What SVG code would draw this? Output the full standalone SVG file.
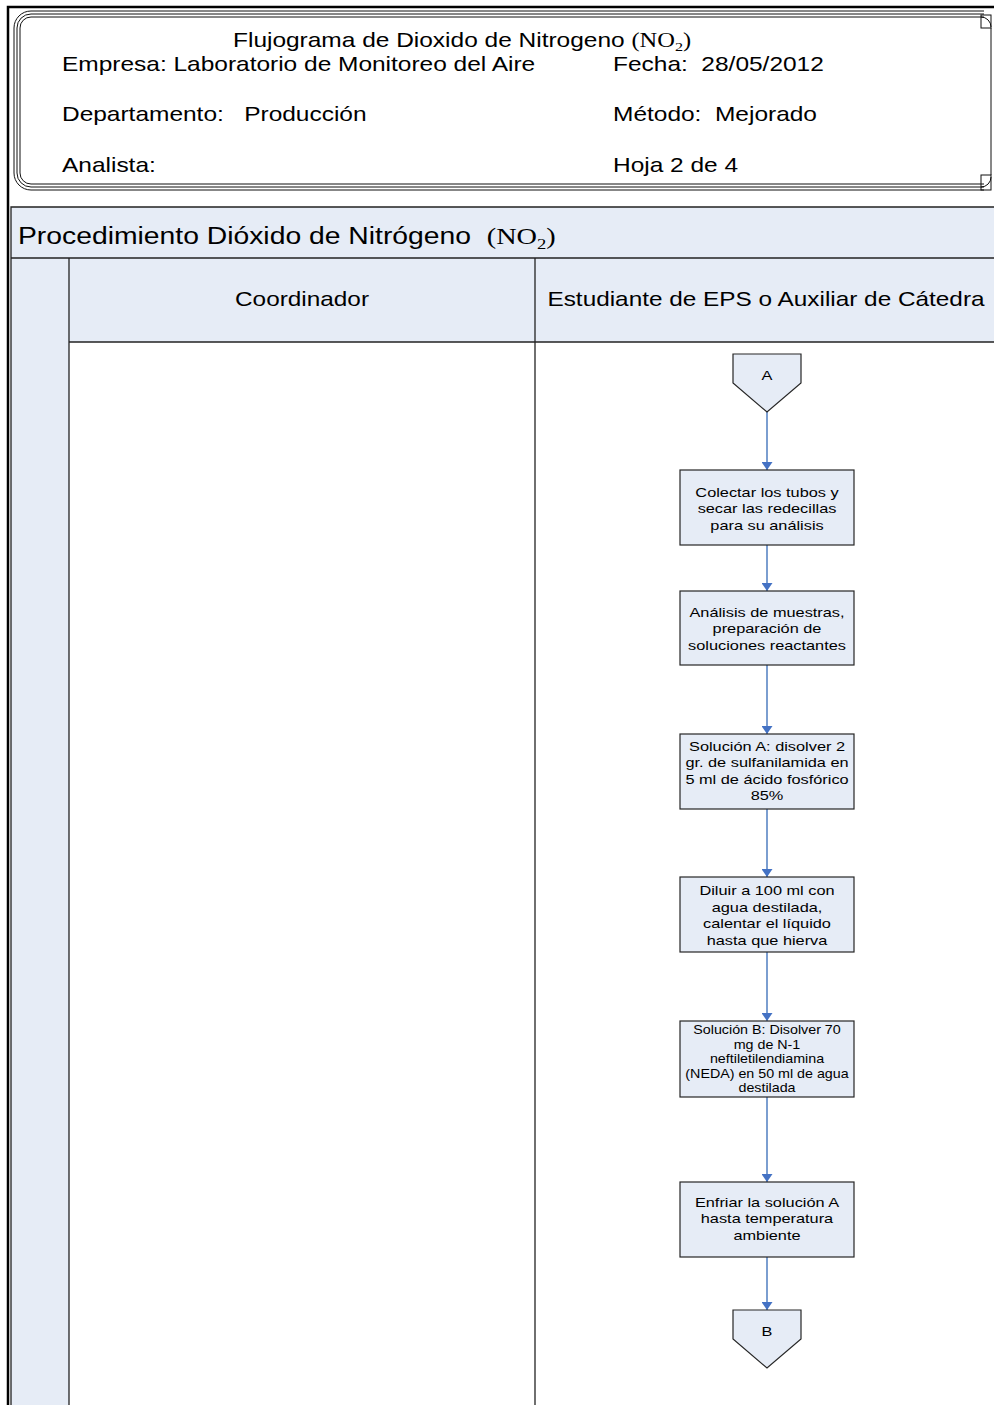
<svg xmlns="http://www.w3.org/2000/svg" width="994" height="1405" viewBox="0 0 994 1405">
  <style>
    .t { font-family: "Liberation Sans", Arial, sans-serif; fill: #000; }
    .hdr { font-size: 20.4px; }
    .lane { font-size: 20.3px; }
    .pool { font-size: 23.6px; }
    .box-t { font-size: 13.6px; }
    .box-s { font-size: 11.9px; }
    .serif { font-family: "Liberation Serif", "Times New Roman", serif; }
    .frame { fill: none; stroke: #111; stroke-width: 1; }
    .fill { fill: #E6ECF6; }
    .rule { stroke: #222; stroke-width: 1.3; fill: none; }
    .box { fill: #E6ECF6; stroke: #262626; stroke-width: 1.2; }
    .conn { fill: none; stroke: #5B86C5; stroke-width: 1.6; marker-end: url(#arrow); }
  </style>
  <defs>
    <marker id="arrow" markerUnits="userSpaceOnUse" viewBox="0 0 8 11" markerWidth="8" markerHeight="11" refX="8" refY="5.5" orient="auto">
      <path d="M0,0 L8,5.5 L0,11 z" fill="#4472C4"/>
    </marker>
  </defs>

  <rect width="994" height="1405" fill="#fff"/>

  <!-- page border -->
  <path d="M8,1405 V7 H994" fill="none" stroke="#000" stroke-width="2.5"/>

  <!-- title block frame -->
  <g id="title-frame" class="frame">
    <path d="M14,173 V28 A17,17 0 0 1 31,11 H984"/>
    <path d="M17,173 V28 A14,14 0 0 1 31,14 H984"/>
    <path d="M20,173 V28 A11,11 0 0 1 31,17 H984"/>
    <path d="M14,173 A17,17 0 0 0 31,190 H984"/>
    <path d="M17,173 A14,14 0 0 0 31,187 H984"/>
    <path d="M20,173 A11,11 0 0 0 31,184 H984"/>
    <path d="M991,28 V175"/>
    <rect x="981" y="15" width="10" height="13"/>
    <path d="M981,17 A10,10 0 0 1 991,27"/>
    <rect x="981" y="175" width="10" height="15"/>
    <path d="M991,177 A10,10 0 0 1 981,187"/>
  </g>

  <!-- title block texts -->
  <g id="title-block">
    <text class="t hdr" transform="translate(233 47) scale(1.2 1)">Flujograma de Dioxido de Nitrogeno <tspan class="serif">(NO<tspan font-size="13.5px" dy="4">2</tspan><tspan dy="-4">)</tspan></tspan></text>
    <text class="t hdr" transform="translate(62 71) scale(1.2 1)">Empresa: Laboratorio de Monitoreo del Aire</text>
    <text class="t hdr" xml:space="preserve" transform="translate(613 71) scale(1.2 1)">Fecha:  28/05/2012</text>
    <text class="t hdr" xml:space="preserve" transform="translate(62 121) scale(1.2 1)">Departamento:   Producción</text>
    <text class="t hdr" xml:space="preserve" transform="translate(613 121) scale(1.2 1)">Método:  Mejorado</text>
    <text class="t hdr" transform="translate(62 172) scale(1.2 1)">Analista:</text>
    <text class="t hdr" transform="translate(613 172) scale(1.2 1)">Hoja 2 de 4</text>
  </g>

  <!-- swimlane pool -->
  <g id="pool">
    <rect class="fill" x="11" y="207" width="990" height="51"/>
    <rect class="fill" x="11" y="258" width="58" height="1150"/>
    <rect class="fill" x="69" y="258" width="466" height="84"/>
    <rect class="fill" x="535" y="258" width="470" height="84"/>
    <path class="rule" d="M11,1405 V207 H994"/>
    <path class="rule" d="M11,258 H994"/>
    <path class="rule" d="M69,258 V1405"/>
    <path class="rule" d="M535,258 V1405"/>
    <path class="rule" d="M69,342 H994"/>
    <text class="t pool" xml:space="preserve" transform="translate(18 244) scale(1.2 1)">Procedimiento Dióxido de Nitrógeno  <tspan class="serif">(NO<tspan font-size="15.5px" dy="4.5">2</tspan><tspan dy="-4.5">)</tspan></tspan></text>
  </g>

  <g id="lane-coordinador">
    <text class="t lane" text-anchor="middle" transform="translate(302 306) scale(1.2 1)">Coordinador</text>
  </g>
  <g id="lane-estudiante">
    <text class="t lane" text-anchor="middle" transform="translate(766 306) scale(1.2 1)">Estudiante de EPS o Auxiliar de Cátedra</text>
  </g>

  <!-- connectors -->
  <g id="connectors">
    <path class="conn" d="M767,412 V470"/>
    <path class="conn" d="M767,545 V591"/>
    <path class="conn" d="M767,665 V734"/>
    <path class="conn" d="M767,809 V877"/>
    <path class="conn" d="M767,952 V1021"/>
    <path class="conn" d="M767,1097 V1182"/>
    <path class="conn" d="M767,1257 V1310"/>
  </g>

  <!-- flow nodes -->
  <g id="offpage-a">
    <path class="box" d="M733,354 H801 V383 L767,412 L733,383 Z"/>
    <text class="t box-t" text-anchor="middle" transform="translate(767 380) scale(1.2 1)">A</text>
  </g>

  <g id="step-colectar">
    <rect class="box" x="680" y="470" width="174" height="75"/>
    <text class="t box-t" text-anchor="middle" transform="translate(767 497) scale(1.2 1)"><tspan x="0">Colectar los tubos y</tspan><tspan x="0" dy="16.3">secar las redecillas</tspan><tspan x="0" dy="16.3">para su análisis</tspan></text>
  </g>

  <g id="step-analisis">
    <rect class="box" x="680" y="591" width="174" height="74"/>
    <text class="t box-t" text-anchor="middle" transform="translate(767 617) scale(1.2 1)"><tspan x="0">Análisis de muestras,</tspan><tspan x="0" dy="16.3">preparación de</tspan><tspan x="0" dy="16.3">soluciones reactantes</tspan></text>
  </g>

  <g id="step-solucion-a">
    <rect class="box" x="680" y="734" width="174" height="75"/>
    <text class="t box-t" text-anchor="middle" transform="translate(767 751) scale(1.2 1)"><tspan x="0">Solución A: disolver 2</tspan><tspan x="0" dy="16.5">gr. de sulfanilamida en</tspan><tspan x="0" dy="16.5">5 ml de ácido fosfórico</tspan><tspan x="0" dy="16.5">85%</tspan></text>
  </g>

  <g id="step-diluir">
    <rect class="box" x="680" y="877" width="174" height="75"/>
    <text class="t box-t" text-anchor="middle" transform="translate(767 895) scale(1.2 1)"><tspan x="0">Diluir a 100 ml con</tspan><tspan x="0" dy="16.6">agua destilada,</tspan><tspan x="0" dy="16.6">calentar el líquido</tspan><tspan x="0" dy="16.6">hasta que hierva</tspan></text>
  </g>

  <g id="step-solucion-b">
    <rect class="box" x="680" y="1021" width="174" height="76"/>
    <text class="t box-s" text-anchor="middle" transform="translate(767 1034) scale(1.2 1)"><tspan x="0">Solución B: Disolver 70</tspan><tspan x="0" dy="14.6">mg de N-1</tspan><tspan x="0" dy="14.6">neftiletilendiamina</tspan><tspan x="0" dy="14.6">(NEDA) en 50 ml de agua</tspan><tspan x="0" dy="14.6">destilada</tspan></text>
  </g>

  <g id="step-enfriar">
    <rect class="box" x="680" y="1182" width="174" height="75"/>
    <text class="t box-t" text-anchor="middle" transform="translate(767 1207) scale(1.2 1)"><tspan x="0">Enfriar la solución A</tspan><tspan x="0" dy="16.5">hasta temperatura</tspan><tspan x="0" dy="16.5">ambiente</tspan></text>
  </g>

  <g id="offpage-b">
    <path class="box" d="M733,1310 H801 V1339 L767,1368 L733,1339 Z"/>
    <text class="t box-t" text-anchor="middle" transform="translate(767 1336) scale(1.2 1)">B</text>
  </g>
</svg>
